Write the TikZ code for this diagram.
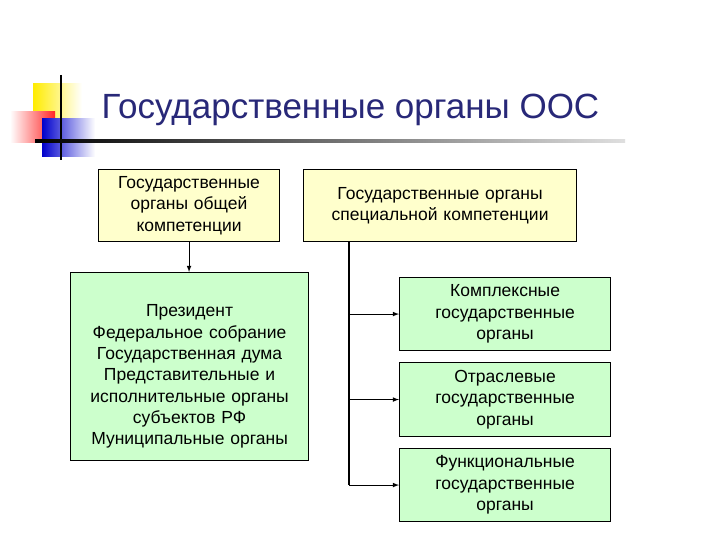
\documentclass[tikz,border=0pt]{standalone}
\usepackage{fontspec}
\setmainfont{Liberation Sans}
\usetikzlibrary{positioning}

\definecolor{titleblue}{RGB}{40,40,120}
\definecolor{boxyellow}{RGB}{255,255,204}
\definecolor{boxgreen}{RGB}{204,255,204}

\tikzset{
  organbox/.style={draw=black, line width=1.1pt, align=center, anchor=north west, inner sep=2pt,
    font=\fontsize{17.5}{21.3}\selectfont},
  link/.style={line width=1.1pt, -latex}
}

\begin{document}
\begin{tikzpicture}[x=1pt, y=-1pt, >=latex]
  % canvas
  \fill[white] (0,0) rectangle (720,540);
  \useasboundingbox (0,0) rectangle (720,540);

  % draw title decoration
  \shade[left color=yellow!85!orange, right color=white] (33,84) rectangle (82,119);
  \shade[left color=white, right color=red!85] (10,112) rectangle (55,143);
  \shade[left color=blue!80!black, right color=white] (42,119) rectangle (95,157);
  \draw[black, line width=2pt] (61,75) -- (61,160);
  \shade[left color=black, right color=gray!25] (35,140) rectangle (625,142.5);

  % title
  \node[text=titleblue, anchor=west, font=\fontsize{35}{40}\selectfont] (title) at (98,110) {Государственные органы ООС};

  % draw top boxes
  \node[organbox, fill=boxyellow, minimum width=181pt, minimum height=72pt, text width=175pt] (general) at (98,169)
    {Государственные\\органы общей\\компетенции};
  \node[organbox, fill=boxyellow, minimum width=273pt, minimum height=72pt, text width=267pt] (special) at (303,169)
    {Государственные органы\\специальной компетенции};

  % list of general bodies (text sits a little low in the box)
  \node[organbox, fill=boxgreen, minimum width=238pt, minimum height=188pt] (list) at (70,272) {};
  \node[organbox, draw=none, anchor=center, text width=232pt] (listtext) at ([yshift=-10pt]list.center)
    {Президент\\Федеральное собрание\\Государственная дума\\Представительные и\\исполнительные органы\\субъектов РФ\\Муниципальные органы};

  % special bodies
  \node[organbox, fill=boxgreen, minimum width=211pt, minimum height=73pt, text width=205pt] (complex) at (399,277)
    {Комплексные\\государственные\\органы};
  \node[organbox, fill=boxgreen, minimum width=211pt, minimum height=74pt, text width=205pt] (branch) at (399,362)
    {Отраслевые\\государственные\\органы};
  \node[organbox, fill=boxgreen, minimum width=211pt, minimum height=73pt, text width=205pt] (func) at (399,448)
    {Функциональные\\государственные\\органы};

  % draw connectors
  \draw[link] (general.south) -- (general.south |- list.north);
  \coordinate (trunk) at (349,241);
  \coordinate (trunkend) at (func.west -| trunk);
  \draw[line width=1.1pt] (trunk) -- (trunkend);
  \draw[link] (complex.west -| trunk) -- (complex.west);
  \draw[link] (branch.west -| trunk) -- (branch.west);
  \draw[link] (trunkend) -- (func.west);

\end{tikzpicture}
\end{document}
